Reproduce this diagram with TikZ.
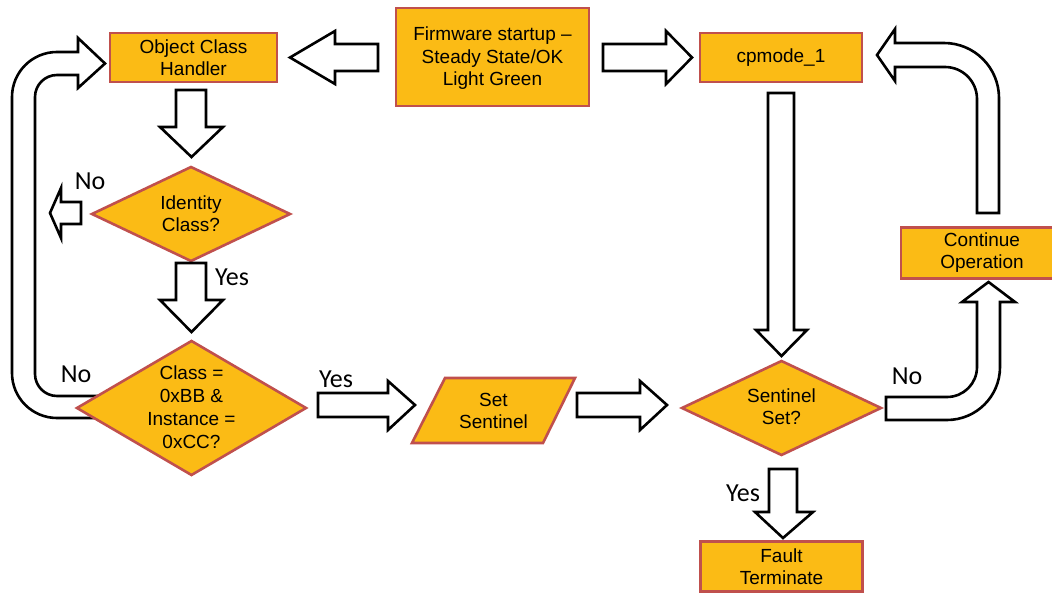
\documentclass[tikz,border=0pt]{standalone}
\usepackage{fontspec}
\setmainfont{Liberation Sans}
\newfontfamily\lblfont{Carlito}
\definecolor{boxfill}{RGB}{251,187,21}
\definecolor{boxline}{RGB}{192,80,77}
\begin{document}
\begin{tikzpicture}[x=1pt,y=-1pt,
  boxsh/.style={draw=boxline, fill=boxfill, line width=2.6pt, line join=miter},
  rectbox/.style={boxsh, inner sep=0pt, align=center, font=\fontsize{19}{22}\selectfont},
  barrow/.style={draw=black, fill=white, line width=2.6pt, line join=miter},
  txt/.style={inner sep=0pt, align=center, font=\fontsize{19}{22}\selectfont},
  lbl/.style={inner sep=0pt, font=\lblfont\fontsize{26}{28}\selectfont}]
\useasboundingbox (0,0) rectangle (1052,593);
\clip (0,0) rectangle (1052,593);

% left U-shaped return arrow (drawn first, diamond covers its tail)
\draw[barrow] (110,396) -- (57,396) .. controls (44.85,396) and (35,386.15) .. (35,374)
  -- (35,97) .. controls (35,84.85) and (44.85,75) .. (57,75)
  -- (78,75) -- (78,88) -- (105,63.5) -- (78,38) -- (78,52)
  -- (57,52) .. controls (32.15,52) and (12,72.15) .. (12,97)
  -- (12,373) .. controls (12,397.85) and (32.15,418) .. (57,418)
  -- (110,418) -- cycle;

% boxes
\node[rectbox, minimum width=167pt, minimum height=49pt] (och) at (193.5,57.5) {Object Class\\Handler};
\draw[boxsh] (396,8) rectangle (589,106);
\node[txt, font=\fontsize{19}{22.5}\selectfont] (fw) at (492.5,58.5) {Firmware startup \textendash\\Steady State/OK\\Light Green};
\node[rectbox, minimum width=162pt, minimum height=49pt] (cp) at (781,57.5) {cpmode\_1};
\node[rectbox, minimum width=162pt, minimum height=51pt] (cont) at (982,253) {Continue\\Operation};
\node[rectbox, minimum width=162pt, minimum height=50pt] (fault) at (781.5,566.5) {Fault\\Terminate};

% diamonds and parallelogram
\draw[boxsh] (92,214) -- (191,167) -- (290,214) -- (191,261) -- cycle;
\node[txt] (idc) at (191,214) {Identity\\Class?};
\draw[boxsh] (77,408) -- (191.5,341) -- (306,408) -- (191.5,475) -- cycle;
\node[txt, font=\fontsize{19}{23}\selectfont] (cls) at (191.5,407) {Class =\\0xBB \&\\Instance =\\0xCC?};
\draw[boxsh] (682,408) -- (781.5,361) -- (881,408) -- (781.5,455) -- cycle;
\node[txt] (sen) at (781.5,407) {Sentinel\\Set?};
\draw[boxsh] (445,378) -- (575,378) -- (543,443) -- (412,443) -- cycle;
\node[txt] (set) at (493.5,411) {Set\\Sentinel};

% straight block arrows
\draw[barrow] (378,44) -- (335,44) -- (335,31) -- (290,57.5) -- (335,84) -- (335,71) -- (378,71) -- cycle;
\draw[barrow] (603,44) -- (666,44) -- (666,31) -- (692,57.5) -- (666,84) -- (666,71) -- (603,71) -- cycle;
\draw[barrow] (176,90) -- (206,90) -- (206,127) -- (223,127) -- (191.5,157) -- (160,127) -- (176,127) -- cycle;
\draw[barrow] (176,263) -- (206,263) -- (206,300) -- (223,300) -- (191.5,332) -- (160,300) -- (176,300) -- cycle;
\draw[barrow] (81,202) -- (61,202) -- (61,188) -- (50,213) -- (61,238) -- (61,224) -- (81,224) -- cycle;
\draw[barrow] (318,393) -- (388,393) -- (388,381) -- (415,405) -- (388,430) -- (388,417) -- (318,417) -- cycle;
\draw[barrow] (577,393) -- (640,393) -- (640,381) -- (667,405) -- (640,430) -- (640,417) -- (577,417) -- cycle;
\draw[barrow] (768,93) -- (794,93) -- (794,330) -- (807,330) -- (781.5,356) -- (756,330) -- (768,330) -- cycle;
\draw[barrow] (769,469) -- (797,469) -- (797,512) -- (813,512) -- (783,538) -- (755,512) -- (769,512) -- cycle;

% curved block arrows on the right
\draw[barrow] (886,397) -- (947,397) .. controls (963.6,397) and (977,383.6) .. (977,367)
  -- (977,302) -- (962,302) -- (988.5,282) -- (1015,302) -- (1000,302)
  -- (1000,367) .. controls (1000,396.3) and (976.3,420) .. (947,420)
  -- (886,420) -- cycle;
\draw[barrow] (977,213) -- (977,99) .. controls (977,81.3) and (962.7,67) .. (945,67)
  -- (895,67) -- (895,81) -- (877,55) -- (895,29) -- (895,43)
  -- (944,43) .. controls (974.4,43) and (999,67.6) .. (999,98)
  -- (999,213) -- cycle;

% labels
\node[lbl] (l1) at (90,181) {No};
\node[lbl] (l2) at (232,277) {Yes};
\node[lbl] (l3) at (76,374) {No};
\node[lbl] (l4) at (336,379) {Yes};
\node[lbl] (l5) at (907,376) {No};
\node[lbl] (l6) at (743,493) {Yes};
\end{tikzpicture}
\end{document}
